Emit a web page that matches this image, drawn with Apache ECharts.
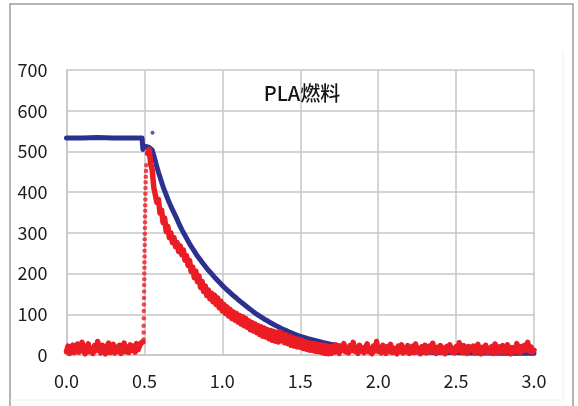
<!DOCTYPE html>
<html>
<head>
<meta charset="utf-8">
<script src="https://cdn.jsdelivr.net/npm/echarts@6/dist/echarts.min.js"></script>
<style>html,body{margin:0;padding:0;background:#fff}#c{width:578px;height:406px}</style>
</head>
<body>
<div id="c"></div>
<script>
// ---- Data ----
const chartTitle = 'PLA燃料';
const xTickLabels = ['0.0','0.5','1.0','1.5','2.0','2.5','3.0'];
const yTickLabels = ['0','100','200','300','400','500','600','700'];

// Blue series (x, y)
const blueX = [0,0.1,0.2,0.3,0.4,0.485,0.49,0.495,0.5,0.51,0.52,0.53,0.54,0.55,
  0.56,0.57,0.58,0.59,0.60,0.61,0.62,0.63,0.64,0.65,
  0.66,0.67,0.68,0.69,0.70,0.71,0.72,0.73,0.74,0.75,
  0.76,0.77,0.78,0.79,0.80,0.81,0.82,0.83,0.84,0.85,
  0.86,0.87,0.88,0.89,0.90,0.91,0.92,0.93,0.94,0.95,
  0.96,0.97,0.98,0.99,1.00,1.01,1.02,1.03,1.04,1.05,
  1.06,1.07,1.08,1.09,1.10,1.11,1.12,1.13,1.14,1.15,
  1.16,1.17,1.18,1.19,1.20,1.21,1.22,1.23,1.24,1.25,
  1.26,1.27,1.28,1.29,1.30,1.31,1.32,1.33,1.34,1.35,
  1.36,1.37,1.38,1.39,1.40,1.41,1.42,1.43,1.44,1.45,
  1.46,1.47,1.48,1.49,1.50,
  1.55,1.60,1.65,1.70,1.75,1.80,1.85,1.90,1.95,2.00,
  2.1,2.2,2.3,2.4,2.5,2.6,2.7,2.8,2.9,3.0];
const blueY = [533,533,534,533,533,533,505,510,512,512,511,510,508,503,
  490,476,462,449,437,425,413,403,393,383,
  374,365,357,349,341,333,324,316,308,301,
  294,287,280,273,267,261,255,249,243,238,
  233,228,223,218,213,208,204,200,196,191,
  187,183,179,175,171,167,164,160,157,153,
  150,146,143,140,137,133,130,127,124,121,
  118,115,112,109,106,103,101,98,96,93,
  91,88,86,84,81,79,77,75,73,71,
  69,67,65,63,61,60,58,56,55,53,
  52,50,49,47,46,
  40,35,30,26,22,19,16,14,12,11,
  9,8,7,6,6,5,5,4,4,4];
const blueOutlierX = [0.552];
const blueOutlierY = [546];

// Red series sampled every 0.01 from 0.00 to 3.00
const redStep = 0.01;
const redBase = [8,22,4,17,24,6,14,27,7,19,
  31,9,3,21,27,8,16,4,23,11,
  33,18,5,24,10,3,21,29,6,16,
  26,5,19,9,24,4,17,29,8,20,
  6,25,11,22,7,28,13,24,30,32];           // 0.00 - 0.49
const redGap = [null,null];                 // 0.50 - 0.51 (rise drawn as dots)
const redDecay = [495,505,470,455,412,410,375,382,348,356,
  325,336,303,316,288,300,276,288,266,276,
  254,268,246,258,233,244,220,232,205,216,
  190,206,180,194,166,181,156,170,146,160,
  138,152,131,147,124,140,116,132,108,124,
  102,118,96,112,90,106,86,102,81,97,
  76,94,72,90,68,84,62,80,59,76,
  55,72,50,69,46,66,44,62,40,60,
  36,58,34,56,32,57,35,52,30,49,
  28,46,24,43,22,40,20,38,19,36,
  16,33,14,31,12,29,11,28,9,26,
  8,25,6,24,4,22,3,21,4];                   // 0.52 - 1.70
const redTail = [21,7,25,10,4,22,12,28,8,18,
  5,23,11,31,9,19,4,24,10,17,
  6,21,27,8,16,3,22,10,33,9,
  19,5,24,11,4,21,9,26,6,17,
  10,3,22,12,25,5,18,8,23,4,
  11,21,6,27,9,17,3,20,10,24,
  5,16,22,8,29,10,4,19,9,23,
  6,17,3,21,11,25,8,16,5,20,
  10,30,18,6,23,9,4,21,11,7,
  22,5,16,26,9,3,19,10,24,6,
  17,8,21,4,27,11,6,20,9,23,
  5,16,25,10,3,18,22,8,28,11,
  6,21,10,24,13,31,9,20,7,12];            // 1.71 - 3.00
const redRiseX = [0.494,0.495,0.495,0.496,0.496,0.497,0.497,0.498,0.498,0.499,0.499,0.500,0.500,0.501,0.501,
  0.502,0.502,0.503,0.503,0.504,0.504,0.505,0.505,0.506,0.506,0.507,0.508,0.509,0.510,0.512];
const redRiseY = [38,55,72,90,108,124,140,156,172,186,200,214,228,242,256,
  270,284,298,312,326,340,354,368,382,396,410,424,438,452,466];

// ---- Build chart ----
const redY = redBase.concat(redGap, redDecay, redTail);
const redData = redY.map((v, i) => [+(i * redStep).toFixed(2), v]);
const blueData = blueX.map((x, i) => [x, blueY[i]]);
const blueOut = blueOutlierX.map((x, i) => [x, blueOutlierY[i]]);
const redRise = redRiseX.map((x, i) => [x, redRiseY[i]]);

const BLUE = '#2c3190';
const RED = '#ec1c24';
const GRID = '#c6c6c6';
const FONT = "'Noto Sans CJK SC', 'Noto Sans', sans-serif";

const chart = echarts.init(document.getElementById('c'), null, {renderer: 'canvas'});
chart.setOption({
  animation: false,
  backgroundColor: '#ffffff',
  grid: {left: 66.5, right: 44, top: 70, bottom: 51, containLabel: false},
  xAxis: {
    type: 'value', min: 0, max: 3, interval: 0.5,
    axisLine: {show: true, lineStyle: {color: GRID, width: 1.5}},
    axisTick: {show: false},
    splitLine: {show: true, lineStyle: {color: GRID, width: 1.5}},
    axisLabel: {margin: 17, fontSize: 18, color: '#1e1e1e', fontFamily: FONT,
      formatter: (v) => xTickLabels[Math.round(v / 0.5)]}
  },
  yAxis: {
    type: 'value', min: 0, max: 700, interval: 100,
    axisLine: {show: true, lineStyle: {color: GRID, width: 1.5}},
    axisTick: {show: false},
    splitLine: {show: true, lineStyle: {color: GRID, width: 1.5}},
    axisLabel: {margin: 19, fontSize: 18, color: '#1e1e1e', fontFamily: FONT,
      formatter: (v) => yTickLabels[Math.round(v / 100)]}
  },
  graphic: [
    {type: 'rect', shape: {x: 10, y: 4, width: 563, height: 420},
     style: {fill: 'none', stroke: '#9c9c9c', lineWidth: 1.5}, silent: true},
    {type: 'line', shape: {x1: 563, y1: 50, x2: 563, y2: 400},
     style: {stroke: '#eeeeee', lineWidth: 1}, silent: true},
    {type: 'line', shape: {x1: 10, y1: 400, x2: 563, y2: 400},
     style: {stroke: '#eeeeee', lineWidth: 1}, silent: true},
    {type: 'text', x: 302, y: 93, z: 10,
     style: {text: chartTitle, font: "500 20px 'Noto Sans CJK SC', sans-serif",
       fill: '#151515', textAlign: 'center', textVerticalAlign: 'middle'}}
  ],
  series: [
    {type: 'line', data: blueData, showSymbol: false, symbol: 'none',
     lineStyle: {color: BLUE, width: 5, cap: 'round', join: 'round'}, z: 2},
    {type: 'scatter', data: blueOut, symbolSize: 4, itemStyle: {color: BLUE}, z: 2},
    {type: 'line', data: redData, showSymbol: false, symbol: 'none', connectNulls: false,
     lineStyle: {color: RED, width: 5.5, cap: 'round', join: 'round'}, z: 3},
    {type: 'scatter', data: redRise, symbolSize: 4.5, itemStyle: {color: RED}, z: 3}
  ]
});
</script>
</body>
</html>
